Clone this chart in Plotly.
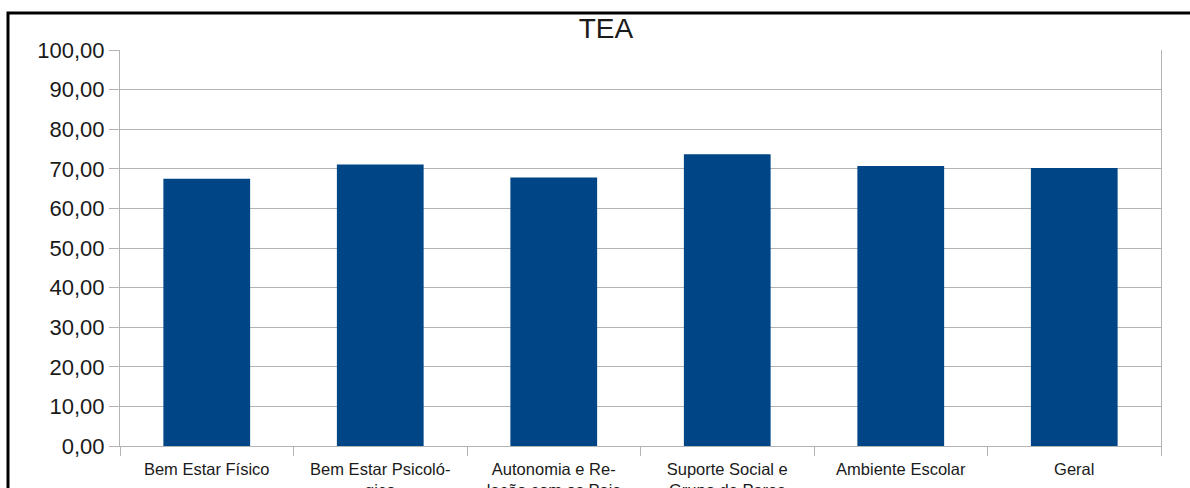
import plotly.graph_objects as go

# Scores per domain
categories = [
    "Bem Estar Físico",
    "Bem Estar Psicoló-<br>gico",
    "Autonomia e Re-<br>lação com os Pais",
    "Suporte Social e<br>Grupo de Pares",
    "Ambiente Escolar",
    "Geral",
]
scores = [67.5, 71.1, 67.8, 73.7, 70.7, 70.2]
y_ticks = [0, 10, 20, 30, 40, 50, 60, 70, 80, 90, 100]

W, H = 1190, 488
L, R, T, B = 120, 29, 50, 42
pw, ph = W - L - R, H - T - B

def px_x(x):
    return (x - L) / pw

def px_y(y):
    return (H - B - y) / ph

fig = go.Figure(
    go.Bar(
        x=categories,
        y=scores,
        marker=dict(color="#004586", line=dict(width=0)),
        width=0.5,
    )
)

grid = "#b3b3b3"
fig.update_layout(
    width=W,
    height=H,
    margin=dict(l=L, r=R, t=T, b=B),
    paper_bgcolor="white",
    plot_bgcolor="white",
    separators=",.",
    font=dict(family="Liberation Sans, Arial, sans-serif", color="#1a1a1a"),
    title=dict(
        text="TEA",
        x=px_x(606), xref="paper", xanchor="center",
        y=1 - 28 / H, yref="container", yanchor="middle",
        font=dict(size=28, color="#1a1a1a"),
        automargin=False,
    ),
    showlegend=False,
    xaxis=dict(
        type="category",
        tickson="boundaries",
        ticks="outside",
        ticklen=9,
        tickcolor=grid,
        showline=True,
        linecolor=grid,
        linewidth=1,
        showgrid=False,
        tickfont=dict(size=16.5, color="#1a1a1a"),
        ticklabelstandoff=8,
        automargin=False,
        fixedrange=True,
    ),
    yaxis=dict(
        range=[0, 100],
        tickvals=y_ticks,
        tickformat=".2f",
        ticks="outside",
        ticklen=10,
        tickcolor=grid,
        showline=True,
        mirror=True,
        linecolor=grid,
        linewidth=1,
        showgrid=True,
        gridcolor=grid,
        gridwidth=1,
        zeroline=False,
        tickfont=dict(size=22, color="#1a1a1a"),
        automargin=False,
        fixedrange=True,
    ),
    shapes=[
        dict(
            type="rect", xref="paper", yref="paper",
            x0=px_x(8), x1=px_x(1210), y0=px_y(510), y1=px_y(13),
            line=dict(color="black", width=3),
            fillcolor="rgba(0,0,0,0)",
        )
    ],
)

fig.write_html("out.html", config={"displayModeBar": False})
